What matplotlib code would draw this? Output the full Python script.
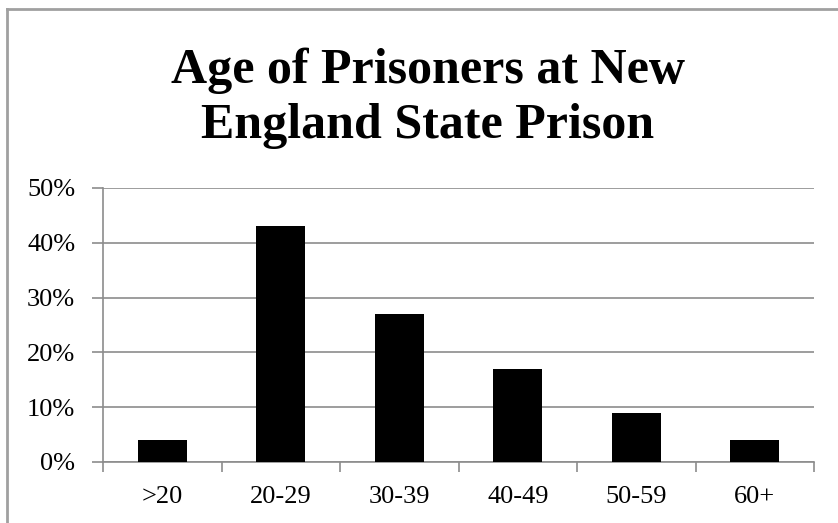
import matplotlib
matplotlib.use("Agg")
import matplotlib.pyplot as plt
from matplotlib.lines import Line2D

# Data
age_groups = ['>20', '20-29', '30-39', '40-49', '50-59', '60+']
share = [0.04, 0.43, 0.27, 0.17, 0.09, 0.04]
y_ticks = [0.0, 0.1, 0.2, 0.3, 0.4, 0.5]
y_labels = ['0%', '10%', '20%', '30%', '40%', '50%']
title_lines = ['Age of Prisoners at New', 'England State Prison']

W, H = 838, 523
fig = plt.figure(figsize=(W / 100, H / 100), dpi=100)
ax = fig.add_axes([103 / W, 1 - 462 / H, (814 - 103) / W, (462 - 188) / H])

grid_c = '#8c8c8c'
x = list(range(len(age_groups)))
ax.bar(x, share, width=0.41, color='black', zorder=3)

ax.set_xlim(-0.5, len(age_groups) - 0.5)
ax.set_ylim(0, 0.5)
ax.set_yticks(y_ticks)
ax.set_yticklabels(y_labels)
ax.set_xticks(x)
ax.set_xticklabels(age_groups)
# tick marks sit on the category boundaries
ax.set_xticks([i - 0.5 for i in range(len(age_groups) + 1)], minor=True)
ax.tick_params(axis='x', which='major', length=0, pad=17)
ax.tick_params(axis='x', which='minor', length=7, color=grid_c, width=1.2)
ax.tick_params(axis='y', length=8, color=grid_c, width=1.2, pad=12)
for lab in ax.get_xticklabels() + ax.get_yticklabels():
    lab.set_fontfamily('Liberation Serif')
    lab.set_fontsize(19)

ax.grid(axis='y', color=grid_c, linewidth=1.2, zorder=0)
for s in ['top', 'right']:
    ax.spines[s].set_visible(False)
for s in ['left', 'bottom']:
    ax.spines[s].set_color(grid_c)
    ax.spines[s].set_linewidth(1.2)

# two-line title, each line on its own baseline
for line, base in zip(title_lines, [83, 138]):
    fig.text(428 / W, 1 - base / H, line, ha='center', va='baseline',
             fontsize=36, fontweight='bold', family='Liberation Serif')

# outer frame (only left and top visible)
fig.add_artist(Line2D([7 / W, 7 / W], [0, 1 - 9 / H], color='#a0a0a0', lw=2,
                      transform=fig.transFigure))
fig.add_artist(Line2D([7 / W, 1], [1 - 9 / H, 1 - 9 / H], color='#a0a0a0', lw=2,
                      transform=fig.transFigure))

fig.savefig('out.png', dpi=100)
